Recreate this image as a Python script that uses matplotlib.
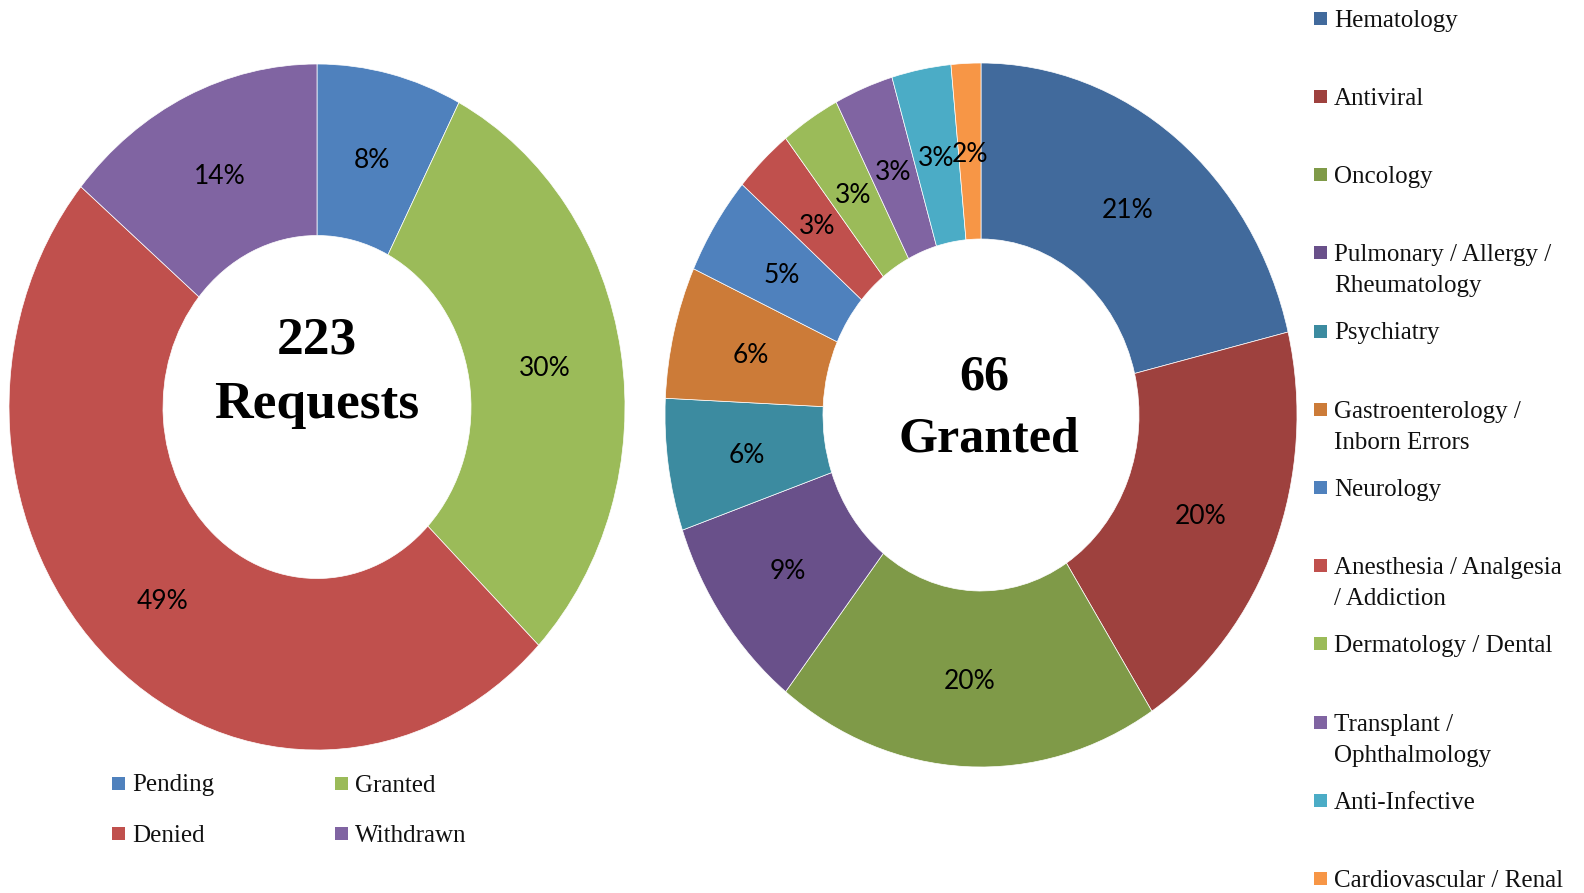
import matplotlib
matplotlib.use("Agg")
import matplotlib.pyplot as plt
from matplotlib.patches import Rectangle
from matplotlib.transforms import offset_copy

W, H = 1584, 893

# request outcomes (left ring)
status_labels = ["Pending", "Granted", "Denied", "Withdrawn"]
status_counts = [17, 66, 109, 31]
status_colors = ["#4F81BD", "#9BBB59", "#C0504D", "#8064A2"]
total_requests = sum(status_counts)

# granted requests by therapeutic area (right ring)
area_labels = [
    "Hematology",
    "Antiviral",
    "Oncology",
    "Pulmonary / Allergy /\nRheumatology",
    "Psychiatry",
    "Gastroenterology /\nInborn Errors",
    "Neurology",
    "Anesthesia / Analgesia\n/ Addiction",
    "Dermatology / Dental",
    "Transplant /\nOphthalmology",
    "Anti-Infective",
    "Cardiovascular / Renal",
]
area_counts = [14, 13, 13, 6, 4, 4, 3, 2, 2, 2, 2, 1]
area_colors = [
    "#416A9C", "#9E413E", "#7F9A48", "#69508A", "#3C8BA0", "#CC7B38",
    "#4F81BD", "#C0504D", "#9BBB59", "#8064A2", "#4BACC6", "#F79646",
]
total_granted = sum(area_counts)

SERIF = "Liberation Serif"
SANS = "Lato"

fig = plt.figure(figsize=(W / 100, H / 100), dpi=100)


def px_axes(x0, y0, x1, y1):
    # axes box given in pixel coords, origin top-left
    return fig.add_axes([x0 / W, 1 - y1 / H, (x1 - x0) / W, (y1 - y0) / H])


def donut(ax, counts, colors):
    _, _, pcts = ax.pie(
        counts,
        colors=colors,
        startangle=90,
        counterclock=False,
        radius=1,
        autopct=lambda p: f"{p:.0f}%",
        pctdistance=0.75,
        wedgeprops=dict(width=0.5, edgecolor="white", linewidth=0.5),
        textprops=dict(family=SANS, fontsize=19, color="black"),
    )
    # the rings are drawn slightly taller than wide
    ax.set_aspect("auto")
    ax.set_xlim(-1, 1)
    ax.set_ylim(-1, 1)
    ax.axis("off")
    # nudge percentage labels down a touch
    for t in pcts:
        t.set_transform(offset_copy(ax.transData, fig=fig, y=-3, units="dots"))


ax_left = px_axes(9, 64, 625, 750)
donut(ax_left, status_counts, status_colors)

ax_right = px_axes(665, 63, 1297, 767)
donut(ax_right, area_counts, area_colors)

# overlay in pixel coords for centre captions and legends
ov = fig.add_axes([0, 0, 1, 1], zorder=5)
ov.set_xlim(0, W)
ov.set_ylim(H, 0)
ov.axis("off")

bold = dict(ha="center", va="baseline", family=SERIF, weight="bold", color="black")
ov.text(317, 353, f"{total_requests}", fontsize=38.5, **bold)
ov.text(317, 418, "Requests", fontsize=38.5, **bold)
ov.text(984, 389, f"{total_granted}", fontsize=36, **bold)
ov.text(989, 451, "Granted", fontsize=36, **bold)

leg_text = dict(ha="left", va="baseline", family=SERIF, fontsize=18, color="#111111")


def legend_entry(x_sq, x_txt, base, color, label):
    ov.add_patch(Rectangle((x_sq, base - 15), 12.5, 13, facecolor=color,
                           edgecolor="none"))
    ov.text(x_txt, base, label, **leg_text)


# left legend, two columns
for i, (lab, col) in enumerate(zip(status_labels, status_colors)):
    row, colm = divmod(i, 2)
    x_sq = 112 if colm == 0 else 335
    legend_entry(x_sq, x_sq + 20, 791.5 + row * 50, col, lab)

# right legend, one column
for i, (lab, col) in enumerate(zip(area_labels, area_colors)):
    base = 26.7 + i * 78.2
    first, *rest = lab.split("\n")
    legend_entry(1314, 1334, base, col, first)
    for j, line in enumerate(rest, start=1):
        ov.text(1334, base + 31 * j, line, **leg_text)

fig.savefig("out.png", dpi=100)
